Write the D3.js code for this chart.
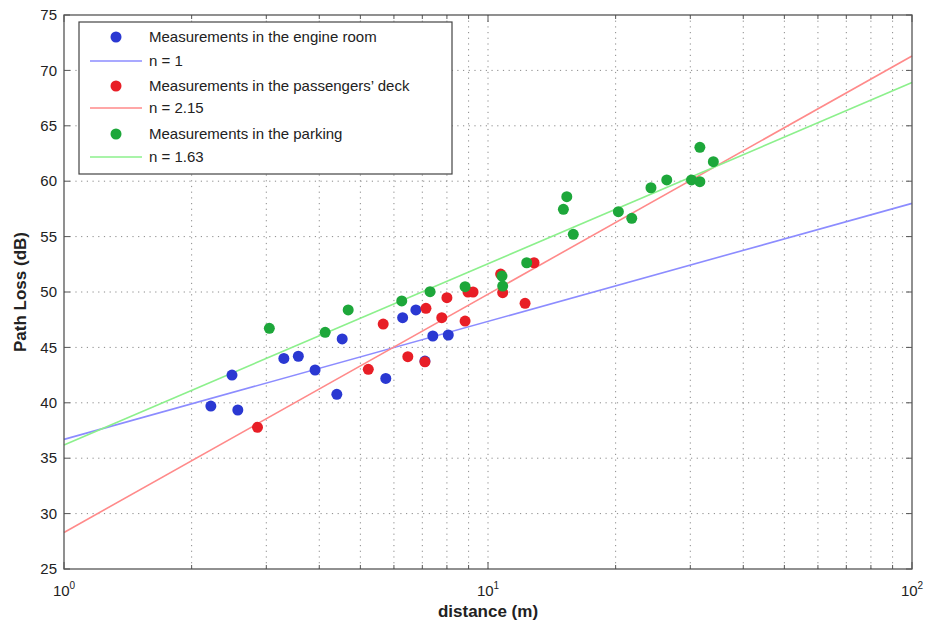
<!DOCTYPE html>
<html>
<head>
<meta charset="utf-8">
<script src="https://cdn.jsdelivr.net/npm/d3@7"></script>
<style>
  body { margin: 0; background: #fff; }
  text { font-family: "Liberation Sans", Arial, sans-serif; fill: #222; }
  .axis-label { font-weight: bold; font-size: 17px; }
</style>
</head>
<body>
<svg id="chart" width="927" height="626"></svg>
<script>
// Data
const engineD  = [2.22, 2.49, 2.57, 3.30, 3.57, 3.91, 4.40, 4.53, 5.74, 6.29, 6.76, 7.10, 7.41, 8.06];
const enginePL = [39.7, 42.5, 39.35, 44.0, 44.2, 42.96, 40.77, 45.76, 42.2, 47.68, 48.38, 43.77, 46.03, 46.12];

const deckD  = [2.86, 5.22, 5.66, 6.47, 7.14, 7.10, 7.78, 8.0, 8.83, 8.97, 9.22, 10.71, 10.83, 12.23, 12.84];
const deckPL = [37.79, 43.02, 47.11, 44.16, 48.53, 43.7, 47.68, 49.49, 47.38, 50.0, 50.0, 51.62, 49.94, 48.98, 52.64];

const parkD  = [3.05, 4.13, 4.68, 6.26, 7.30, 8.83, 10.79, 10.83, 12.34, 15.06, 15.34, 15.89, 20.3, 21.83, 24.23, 26.4, 30.2, 31.6, 31.6, 34.0];
const parkPL = [46.72, 46.36, 48.38, 49.19, 50.03, 50.48, 51.44, 50.54, 52.64, 57.46, 58.6, 55.21, 57.25, 56.65, 59.41, 60.11, 60.11, 59.96, 63.06, 61.76];

// fitted lines: PL = a + b*log10(d)
const fitNames     = ["n = 1", "n = 2.15", "n = 1.63"];
const fitIntercept = [36.7, 28.3, 36.2];
const fitSlope     = [10.65, 21.5, 16.35];

const seriesNames = ["Measurements in the engine room", "Measurements in the passengers\u2019 deck", "Measurements in the parking"];
const yTicks = [25, 30, 35, 40, 45, 50, 55, 60, 65, 70, 75];
const xMajor = [1, 10, 100];

const dotColors  = ["#2a38d2", "#e81e26", "#1da73a"];
const lineColors = ["#8c8cff", "#ff8a8a", "#8cf08c"];

// Setup
const svg = d3.select("#chart");
const margin = {left: 64, top: 15, right: 15, bottom: 57};
const W = 927, H = 626;
const x0 = margin.left, x1 = W - margin.right, y0 = H - margin.bottom, y1 = margin.top;

const x = d3.scaleLog().domain([1, 100]).range([x0, x1]);
const y = d3.scaleLinear().domain([25, 75]).range([y0, y1]);

// minor tick positions
const xMinor = [];
[1, 10].forEach(dec => { for (let k = 2; k <= 9; k++) xMinor.push(dec * k); });

// Grid
const grid = svg.append("g").attr("stroke", "#8a8a8a").attr("stroke-width", 1).attr("stroke-dasharray", "1.2,4.5");
grid.selectAll(".gx").data(xMinor.concat([10])).join("line")
  .attr("x1", d => x(d)).attr("x2", d => x(d)).attr("y1", y0).attr("y2", y1);
grid.selectAll(".gy").data(yTicks.slice(1, -1)).join("line")
  .attr("x1", x0).attr("x2", x1).attr("y1", d => y(d)).attr("y2", d => y(d));

// Ticks (inside, all four sides)
const ticks = svg.append("g").attr("stroke", "#555").attr("stroke-width", 1);
yTicks.forEach(v => {
  ticks.append("line").attr("x1", x0).attr("x2", x0 + 6).attr("y1", y(v)).attr("y2", y(v));
  ticks.append("line").attr("x1", x1).attr("x2", x1 - 6).attr("y1", y(v)).attr("y2", y(v));
});
xMinor.forEach(v => {
  ticks.append("line").attr("x1", x(v)).attr("x2", x(v)).attr("y1", y0).attr("y2", y0 - 4);
  ticks.append("line").attr("x1", x(v)).attr("x2", x(v)).attr("y1", y1).attr("y2", y1 + 4);
});
xMajor.forEach(v => {
  ticks.append("line").attr("x1", x(v)).attr("x2", x(v)).attr("y1", y0).attr("y2", y0 - 7);
  ticks.append("line").attr("x1", x(v)).attr("x2", x(v)).attr("y1", y1).attr("y2", y1 + 7);
});

// Fit lines
const lineGen = d3.line().x(d => x(d[0])).y(d => y(d[1]));
fitIntercept.forEach((a, i) => {
  const pts = [1, 100].map(d => [d, a + fitSlope[i] * Math.log10(d)]);
  svg.append("path").attr("d", lineGen(pts)).attr("fill", "none")
    .attr("stroke", lineColors[i]).attr("stroke-width", 1.6);
});

// Points
const sets = [[engineD, enginePL], [deckD, deckPL], [parkD, parkPL]];
sets.forEach((s, i) => {
  svg.append("g").selectAll("circle")
    .data(s[0].map((d, k) => [d, s[1][k]]))
    .join("circle")
      .attr("cx", d => x(d[0]))
      .attr("cy", d => y(d[1]))
      .attr("r", 5.5)
      .attr("fill", dotColors[i]);
});

// Frame
svg.append("rect").attr("x", x0).attr("y", y1).attr("width", x1 - x0).attr("height", y0 - y1)
  .attr("fill", "none").attr("stroke", "#555").attr("stroke-width", 1.3);

// Y tick labels
svg.append("g").selectAll("text").data(yTicks).join("text")
  .attr("x", x0 - 7).attr("y", d => y(d)).attr("dy", "0.35em")
  .attr("text-anchor", "end").attr("font-size", 15).text(d => d);

// X tick labels 10^k
xMajor.forEach(v => {
  const t = svg.append("text").attr("x", x(v)).attr("y", 596)
    .attr("text-anchor", "middle").attr("font-size", 15);
  t.append("tspan").text("10");
  t.append("tspan").attr("font-size", 10).attr("dy", -7).text(Math.round(Math.log10(v)));
});

// Axis labels
svg.append("text").attr("class", "axis-label")
  .attr("x", (x0 + x1) / 2).attr("y", 617).attr("text-anchor", "middle")
  .text("distance (m)");
svg.append("text").attr("class", "axis-label")
  .attr("transform", "rotate(-90)")
  .attr("x", -(y0 + y1) / 2).attr("y", 26).attr("text-anchor", "middle")
  .text("Path Loss (dB)");

// Legend
const lg = svg.append("g");
lg.append("rect").attr("x", 79).attr("y", 22).attr("width", 373).attr("height", 152)
  .attr("fill", "#fff").attr("stroke", "#444").attr("stroke-width", 1.2);
const rowY = [37, 61, 86, 108, 134, 157];
seriesNames.forEach((name, i) => {
  const ym = rowY[2 * i], yl = rowY[2 * i + 1];
  lg.append("circle").attr("cx", 116).attr("cy", ym).attr("r", 5.5).attr("fill", dotColors[i]);
  lg.append("text").attr("x", 149).attr("y", ym).attr("dy", "0.35em").attr("font-size", 15).text(name);
  lg.append("line").attr("x1", 90).attr("x2", 142).attr("y1", yl).attr("y2", yl)
    .attr("stroke", lineColors[i]).attr("stroke-width", 1.6);
  lg.append("text").attr("x", 149).attr("y", yl).attr("dy", "0.35em").attr("font-size", 15).text(fitNames[i]);
});
</script>
</body>
</html>
